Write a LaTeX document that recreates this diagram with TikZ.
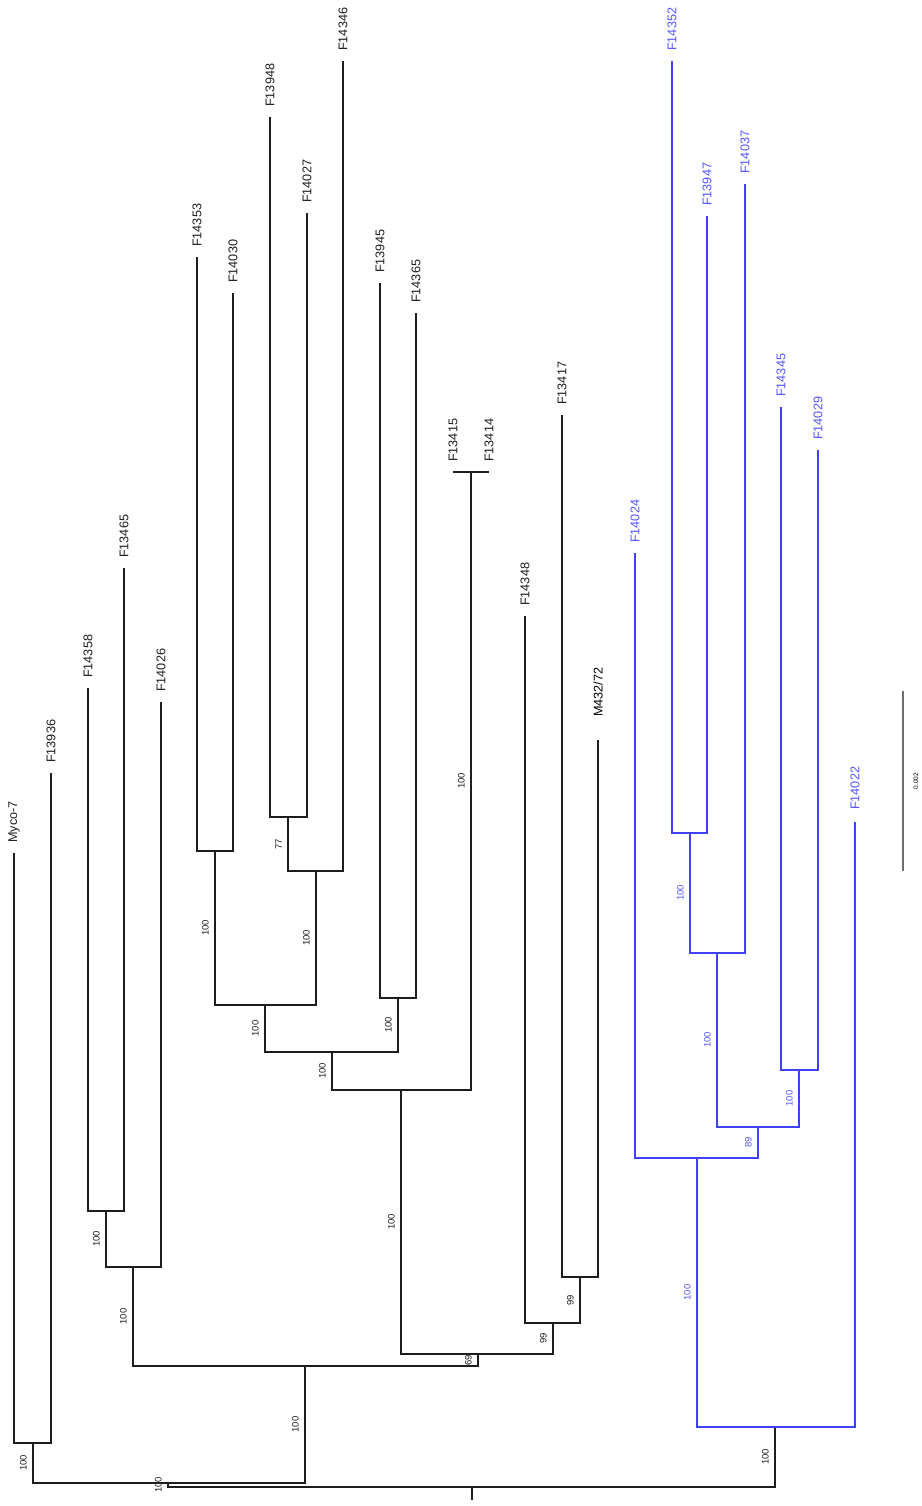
\documentclass[tikz,border=0pt]{standalone}
\usepackage{fontspec}
\setmainfont{Liberation Sans}
\usetikzlibrary{calc}
\definecolor{blueline}{RGB}{64,64,255}
\definecolor{bluetext}{RGB}{85,85,255}
\definecolor{darkline}{RGB}{30,30,30}
\definecolor{scalegray}{RGB}{110,110,110}
\tikzset{
  brk/.style={line width=2bp, draw=darkline, line join=miter},
  brb/.style={line width=2bp, draw=blueline, line join=miter},
  leaflab/.style={rotate=90, anchor=west, inner sep=0pt, font=\fontsize{12.7}{12.7}\selectfont, text=darkline},
  leafblue/.style={leaflab, text=bluetext},
  bootlab/.style={rotate=90, anchor=south, inner sep=0pt, font=\fontsize{9.5}{9.5}\selectfont, text=darkline},
  bootblue/.style={bootlab, text=bluetext},
}
\newcommand\mybs[4]{\node[#4] (bs-#1) at ([xshift=-6bp]$(#1)!0.5!(#1|-#2)$) {#3};}
\begin{document}
\begin{tikzpicture}[x=1bp,y=-1bp]
\useasboundingbox (0,0) rectangle (921,1506);
\fill[white] (0,0) rectangle (921,1506);
% leaves
\coordinate (myco) at (14,853);
\coordinate (f13936) at (51,773);
\coordinate (f14358) at (88,688);
\coordinate (f13465) at (124,568);
\coordinate (f14026) at (161,702);
\coordinate (f14353) at (197,257);
\coordinate (f14030) at (233,293);
\coordinate (f13948) at (270,117);
\coordinate (f14027) at (307,213);
\coordinate (f14346) at (343,61);
\coordinate (f13945) at (380,283);
\coordinate (f14365) at (416,313);
\coordinate (f13415) at (453,472);
\coordinate (f13414) at (489,472);
\coordinate (f14348) at (525,616);
\coordinate (f13417) at (562,415);
\coordinate (m43272) at (598,740);
\coordinate (f14024) at (635,553);
\coordinate (f14352) at (672,61);
\coordinate (f13947) at (707,216);
\coordinate (f14037) at (745,184);
\coordinate (f14345) at (781,407);
\coordinate (f14029) at (818,450);
\coordinate (f14022) at (855,822);
% internal nodes
\coordinate (n1) at (33,1443);
\coordinate (n2) at (106,1211);
\coordinate (n3) at (133,1267);
\coordinate (n4) at (215,851);
\coordinate (n5) at (288,817);
\coordinate (n6) at (316,871);
\coordinate (n7) at (265,1005);
\coordinate (n8) at (398,998);
\coordinate (n9) at (332,1052);
\coordinate (n10) at (471,472);
\coordinate (n11) at (401,1090);
\coordinate (n12) at (580,1277);
\coordinate (n13) at (553,1323);
\coordinate (n14) at (478,1354);
\coordinate (n15) at (305,1366);
\coordinate (n16) at (168,1483);
\coordinate (b1) at (690,833);
\coordinate (b2) at (717,953);
\coordinate (b3) at (799,1070);
\coordinate (b4) at (758,1127);
\coordinate (b5) at (697,1158);
\coordinate (b6) at (775,1427);
\coordinate (root) at (472,1487);
\coordinate (rootend) at (472,1500);
% black branches
\draw[brk] (myco) -- (myco|-n1) -- (f13936|-n1) -- (f13936);
\draw[brk] (f14358) -- (f14358|-n2) -- (f13465|-n2) -- (f13465);
\draw[brk] (n2) -- (n2|-n3) -- (f14026|-n3) -- (f14026);
\draw[brk] (f14353) -- (f14353|-n4) -- (f14030|-n4) -- (f14030);
\draw[brk] (f13948) -- (f13948|-n5) -- (f14027|-n5) -- (f14027);
\draw[brk] (n5) -- (n5|-n6) -- (f14346|-n6) -- (f14346);
\draw[brk] (n4) -- (n4|-n7) -- (n6|-n7) -- (n6);
\draw[brk] (f13945) -- (f13945|-n8) -- (f14365|-n8) -- (f14365);
\draw[brk] (n7) -- (n7|-n9) -- (n8|-n9) -- (n8);
\draw[brk] (f13415) -- (f13415|-n10) -- (f13414|-n10) -- (f13414);
\draw[brk] (n9) -- (n9|-n11) -- (n10|-n11) -- (n10);
\draw[brk] (f13417) -- (f13417|-n12) -- (m43272|-n12) -- (m43272);
\draw[brk] (f14348) -- (f14348|-n13) -- (n12|-n13) -- (n12);
\draw[brk] (n11) -- (n11|-n14) -- (n13|-n14) -- (n13);
\draw[brk] (n3) -- (n3|-n15) -- (n14|-n15) -- (n14);
\draw[brk] (n1) -- (n1|-n16) -- (n15|-n16) -- (n15);
\draw[brk] (n16) -- (n16|-root) -- (b6|-root) -- (b6);
\draw[brk] (root) -- (rootend);
% blue branches
\draw[brb] (f14352) -- (f14352|-b1) -- (f13947|-b1) -- (f13947);
\draw[brb] (b1) -- (b1|-b2) -- (f14037|-b2) -- (f14037);
\draw[brb] (f14345) -- (f14345|-b3) -- (f14029|-b3) -- (f14029);
\draw[brb] (b2) -- (b2|-b4) -- (b3|-b4) -- (b3);
\draw[brb] (f14024) -- (f14024|-b5) -- (b4|-b5) -- (b4);
\draw[brb] (b5) -- (b5|-b6) -- (f14022|-b6) -- (f14022);
% leaf labels
\node[leaflab] (l-myco) at ([yshift=10bp]myco) {Myco-7};
\node[leaflab] (l-f13936) at ([yshift=10bp]f13936) {F13936};
\node[leaflab] (l-f14358) at ([yshift=10bp]f14358) {F14358};
\node[leaflab] (l-f13465) at ([yshift=10bp]f13465) {F13465};
\node[leaflab] (l-f14026) at ([yshift=10bp]f14026) {F14026};
\node[leaflab] (l-f14353) at ([yshift=10bp]f14353) {F14353};
\node[leaflab] (l-f14030) at ([yshift=10bp]f14030) {F14030};
\node[leaflab] (l-f13948) at ([yshift=10bp]f13948) {F13948};
\node[leaflab] (l-f14027) at ([yshift=10bp]f14027) {F14027};
\node[leaflab] (l-f14346) at ([yshift=10bp]f14346) {F14346};
\node[leaflab] (l-f13945) at ([yshift=10bp]f13945) {F13945};
\node[leaflab] (l-f14365) at ([yshift=10bp]f14365) {F14365};
\node[leaflab] (l-f13415) at ([yshift=10bp]f13415) {F13415};
\node[leaflab] (l-f13414) at ([yshift=10bp]f13414) {F13414};
\node[leaflab] (l-f14348) at ([yshift=10bp]f14348) {F14348};
\node[leaflab] (l-f13417) at ([yshift=10bp]f13417) {F13417};
\node[leaflab, text=black] (l-m43272) at ([yshift=23bp]m43272) {M432/72};
\node[leafblue] (l-f14024) at ([yshift=10bp]f14024) {F14024};
\node[leafblue] (l-f14352) at ([yshift=10bp]f14352) {F14352};
\node[leafblue] (l-f13947) at ([yshift=10bp]f13947) {F13947};
\node[leafblue] (l-f14037) at ([yshift=10bp]f14037) {F14037};
\node[leafblue] (l-f14345) at ([yshift=10bp]f14345) {F14345};
\node[leafblue] (l-f14029) at ([yshift=10bp]f14029) {F14029};
\node[leafblue] (l-f14022) at ([yshift=12bp]f14022) {F14022};
% bootstrap values
\mybs{n1}{n16}{100}{bootlab}
\mybs{n2}{n3}{100}{bootlab}
\mybs{n3}{n15}{100}{bootlab}
\mybs{n4}{n7}{100}{bootlab}
\mybs{n5}{n6}{77}{bootlab}
\mybs{n6}{n7}{100}{bootlab}
\mybs{n7}{n9}{100}{bootlab}
\mybs{n8}{n9}{100}{bootlab}
\mybs{n9}{n11}{100}{bootlab}
\mybs{n10}{n11}{100}{bootlab}
\mybs{n11}{n14}{100}{bootlab}
\mybs{n12}{n13}{99}{bootlab}
\mybs{n13}{n14}{99}{bootlab}
\mybs{n14}{n15}{69}{bootlab}
\mybs{n15}{n16}{100}{bootlab}
\mybs{n16}{root}{100}{bootlab}
\mybs{b1}{b2}{100}{bootblue}
\mybs{b2}{b4}{100}{bootblue}
\mybs{b3}{b4}{100}{bootblue}
\mybs{b4}{b5}{89}{bootblue}
\mybs{b5}{b6}{100}{bootblue}
\mybs{b6}{root}{100}{bootlab}
% scale bar
\coordinate (sb1) at (903,691);
\coordinate (sb2) at (903,871);
\draw[line width=1.5bp, draw=scalegray] (sb1) -- (sb2);
\node[rotate=90, inner sep=0pt, font=\fontsize{6.5}{6.5}\selectfont] (sblab) at ([xshift=13bp]$(sb1)!0.5!(sb2)$) {0.002};
\end{tikzpicture}
\end{document}
